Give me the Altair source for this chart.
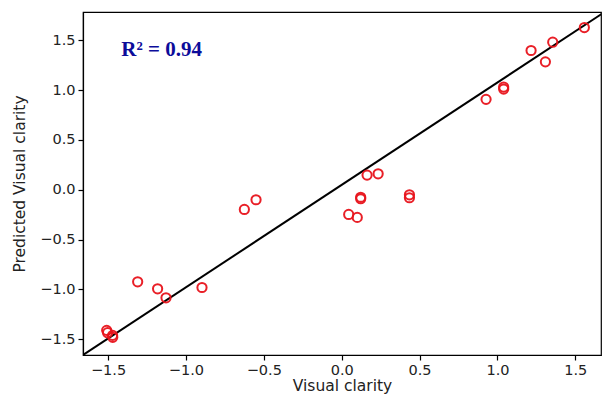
import altair as alt
import pandas as pd

obs_x = [1.558, 1.355, 1.216, 1.308, 1.040, 1.040, 0.927,
         0.163, 0.234, 0.122, 0.122, 0.045, 0.100, 0.435, 0.435,
         -0.625, -0.550,
         -1.310, -1.182, -1.128, -0.897,
         -1.509, -1.503, -1.471, -1.470]
pred_y = [1.627, 1.480, 1.397, 1.283, 1.030, 1.010, 0.907,
          0.147, 0.160, -0.075, -0.090, -0.247, -0.277, -0.050, -0.080,
          -0.197, -0.100,
          -0.923, -0.993, -1.083, -0.980,
          -1.410, -1.433, -1.460, -1.480]

# Fit line endpoints
fit_x = [-1.661, 1.704]
fit_y = [-1.657, 1.799]

tick_vals = [-1.5, -1.0, -0.5, 0.0, 0.5, 1.0, 1.5]
x_domain = [-1.661, 1.665]
y_domain = [-1.657, 1.783]

annot_text = ["R² = 0.94"]
annot_x = [-1.415]
annot_y = [1.40]

pts = pd.DataFrame({"x": obs_x, "y": pred_y})
line_df = pd.DataFrame({"x": fit_x, "y": fit_y})
txt_df = pd.DataFrame({"x": annot_x, "y": annot_y, "t": annot_text})

axis_common = dict(
    values=tick_vals, format=".1f", grid=False,
    labelFont="DejaVu Sans", labelFontSize=14.5, labelColor="#222222",
    titleFont="DejaVu Sans", titleFontSize=15.5, titleFontWeight="normal", titleColor="#222222",
    domainColor="black", domainWidth=1.2, tickColor="black", tickWidth=1.2, tickSize=5,
    labelPadding=3,
)

xs = alt.Scale(domain=x_domain, nice=False, zero=False)
ys = alt.Scale(domain=y_domain, nice=False, zero=False)

xenc = alt.X("x:Q", scale=xs, axis=alt.Axis(title="Visual clarity", titlePadding=2, **axis_common))
yenc = alt.Y("y:Q", scale=ys, axis=alt.Axis(title="Predicted Visual clarity", titlePadding=12, **axis_common))

line = alt.Chart(line_df).mark_line(color="black", strokeWidth=2, clip=True).encode(x=xenc, y=yenc)

points = alt.Chart(pts).mark_point(
    shape="circle", filled=False, color="#e8141c", size=85, strokeWidth=2, opacity=0.95
).encode(x="x:Q", y="y:Q")

text = alt.Chart(txt_df).mark_text(
    align="left", baseline="middle", font="Liberation Serif", fontWeight="bold",
    fontSize=21, color="#0c0c9a"
).encode(x="x:Q", y="y:Q", text="t:N")

chart = alt.layer(line, points, text).properties(
    width=518, height=343,
    autosize=alt.AutoSizeParams(type="none"),
    padding={"left": 75, "top": 4, "right": 1, "bottom": 41},
).configure_view(stroke="black", strokeWidth=1.2)

chart.save("out.html", embed_options={"renderer": "svg", "actions": False})
